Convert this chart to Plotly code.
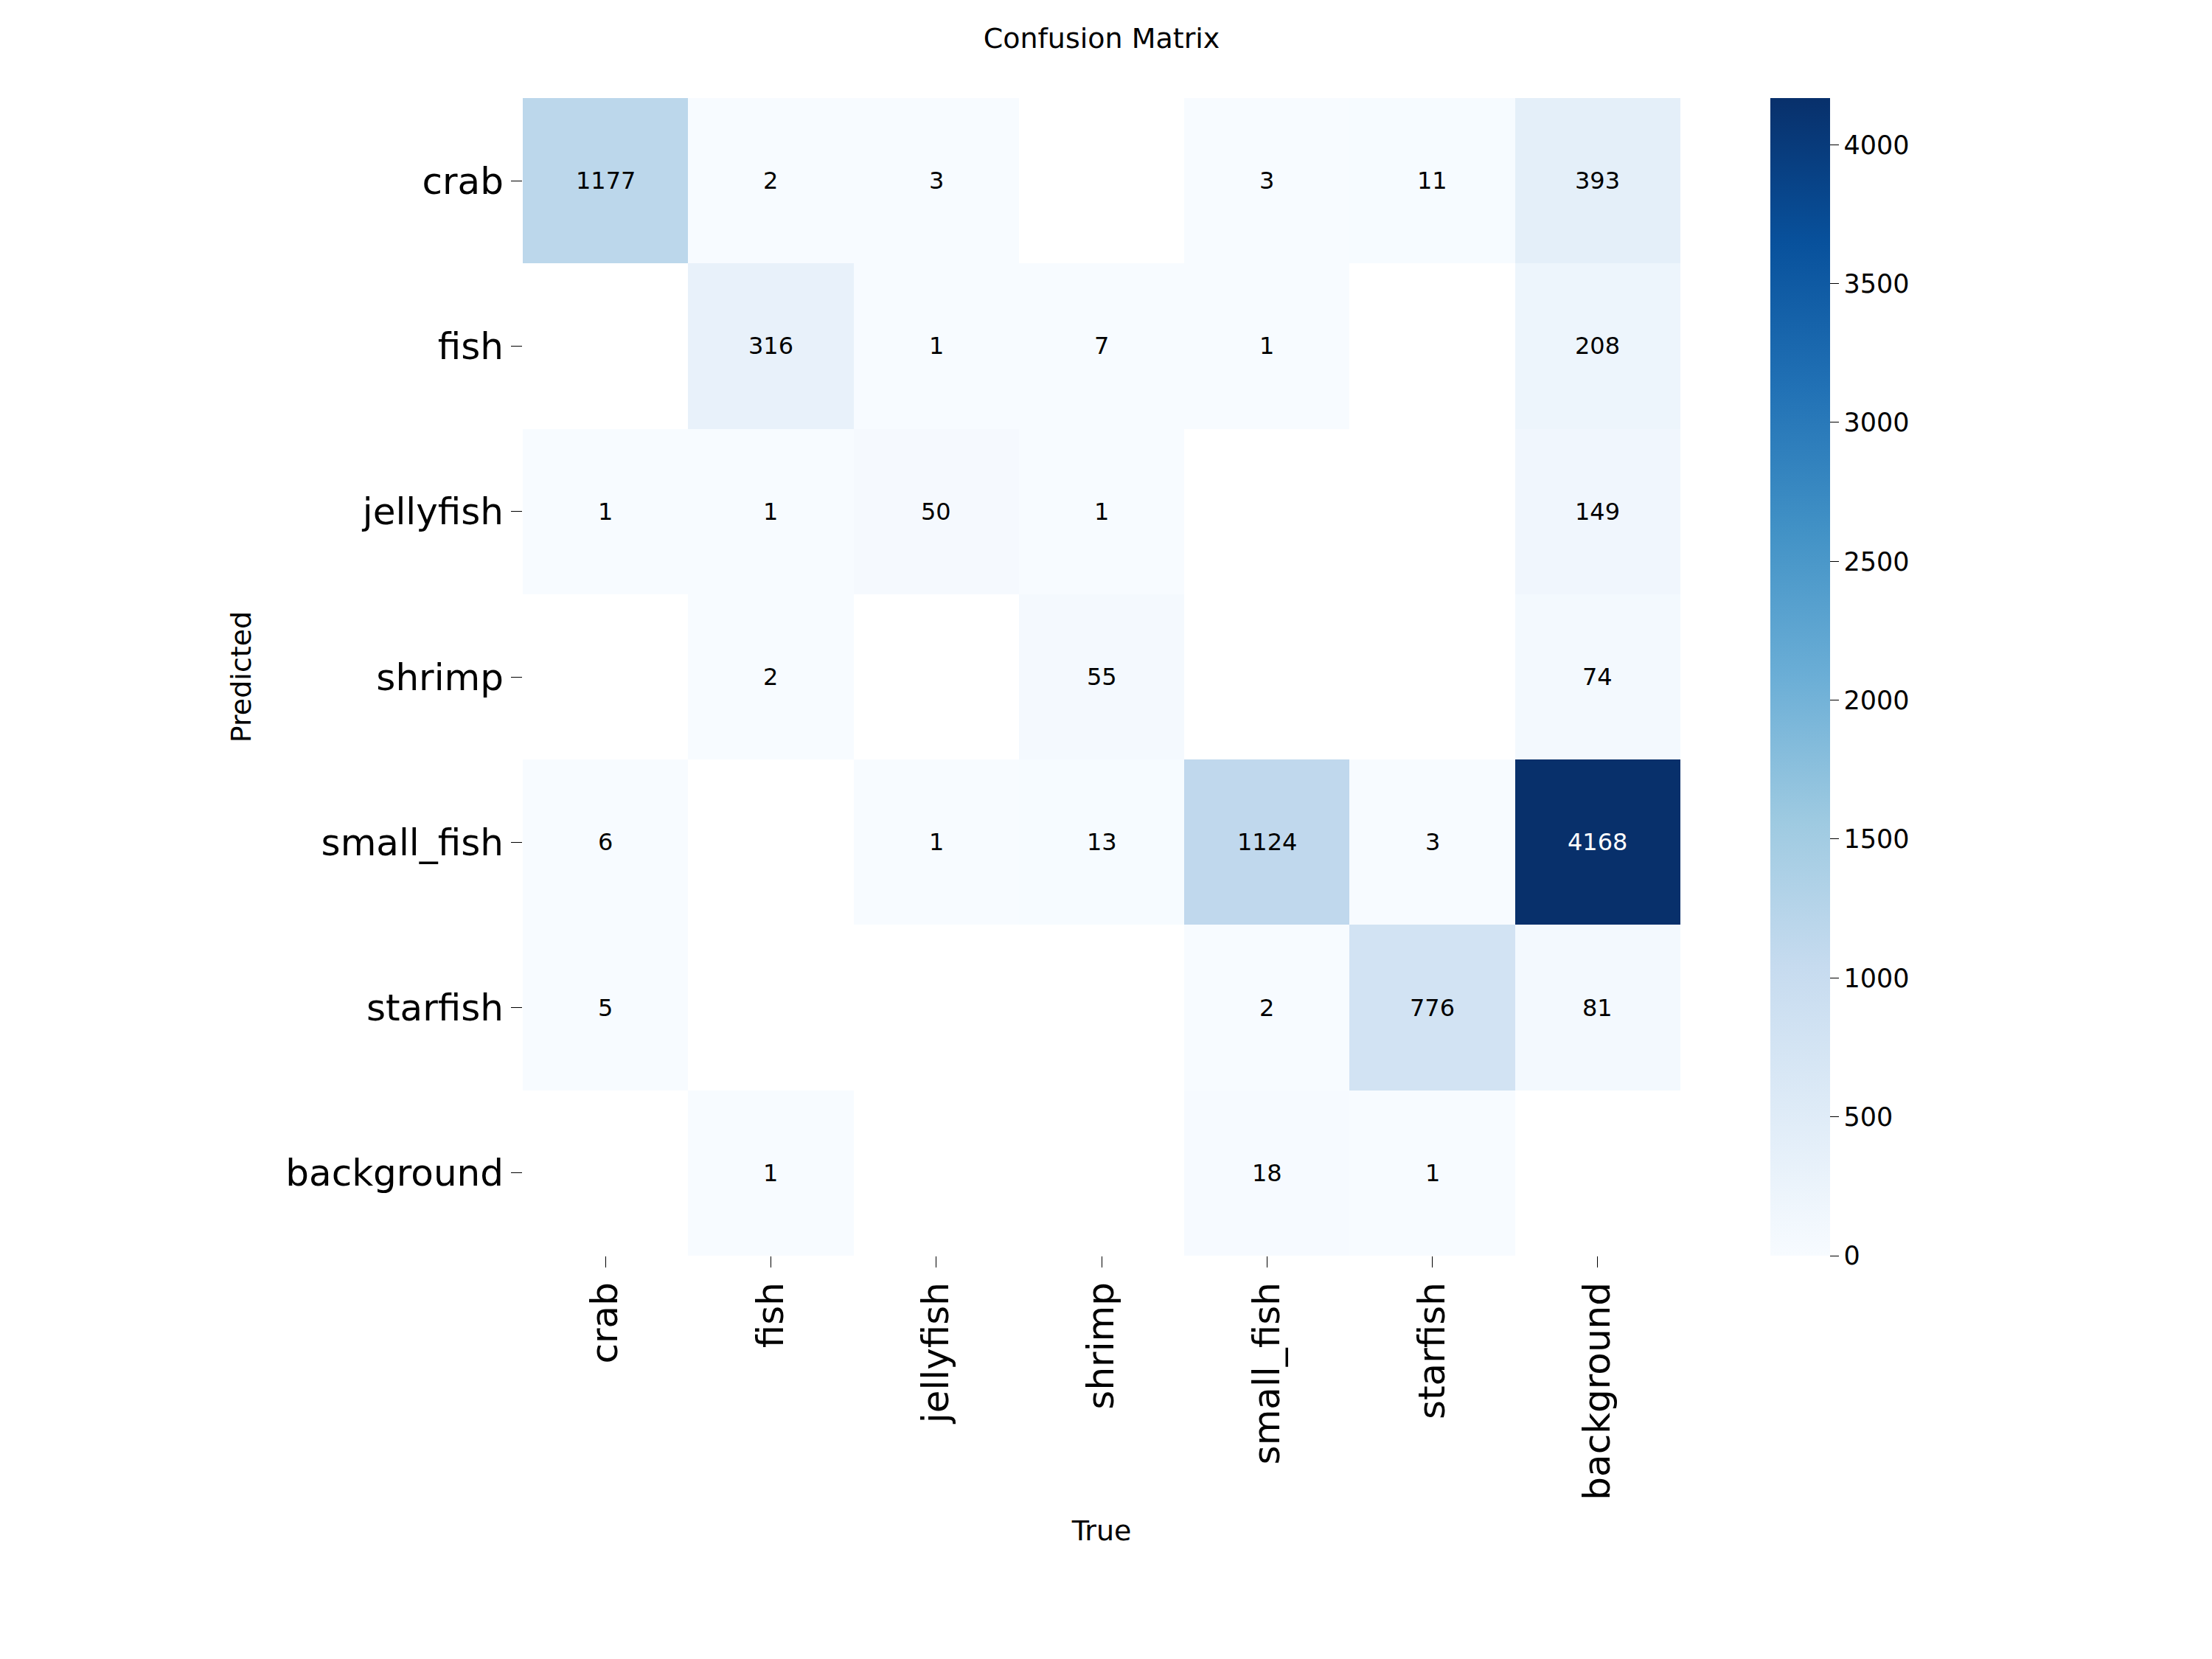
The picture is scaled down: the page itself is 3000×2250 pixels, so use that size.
import plotly.graph_objects as go

labels = ["crab", "fish", "jellyfish", "shrimp", "small_fish", "starfish", "background"]
# rows = Predicted, cols = True ; None = 0 (blank)
matrix = [
    [1177, 2, 3, None, 3, 11, 393],
    [None, 316, 1, 7, 1, None, 208],
    [1, 1, 50, 1, None, None, 149],
    [None, 2, None, 55, None, None, 74],
    [6, None, 1, 13, 1124, 3, 4168],
    [5, None, None, None, 2, 776, 81],
    [None, 1, None, None, 18, 1, None],
]
zmax = 4168

fig = go.Figure(go.Heatmap(
    z=matrix, x=labels, y=labels, colorscale="Blues", zmin=0, zmax=zmax,
    xgap=0, ygap=0, hoverongaps=False,
    colorbar=dict(x=1.078, xanchor="left", xpad=0, ypad=0, y=0.5, yanchor="middle", len=1,
                  lenmode="fraction", thickness=81, outlinewidth=0,
                  tickvals=list(range(0, 4001, 500)),
                  ticks="outside", ticklen=12, tickcolor="black",
                  tickfont=dict(size=35, family="DejaVu Sans")),
))
anns = []
for i, row in enumerate(matrix):
    for j, v in enumerate(row):
        if v is None:
            continue
        anns.append(dict(x=labels[j], y=labels[i], text=str(v), showarrow=False,
                         font=dict(size=32, family="DejaVu Sans",
                                   color="white" if v > zmax * 0.6 else "black")))
fig.update_layout(
    width=3000, height=2250, paper_bgcolor="white", plot_bgcolor="white",
    margin=dict(l=701, r=729, t=125, b=555),
    annotations=anns,
    title=dict(text="Confusion Matrix", xref="paper", x=0.5, xanchor="center", y=0.9805,
               yanchor="middle", font=dict(size=38, family="DejaVu Sans", color="black")),
    font=dict(family="DejaVu Sans", color="black"),
)
fig.update_xaxes(title=dict(text="True", font=dict(size=38), standoff=28), tickangle=-90,
                 tickfont=dict(size=50), ticks="outside", ticklen=15, tickcolor="black",
                 showgrid=False, zeroline=False)
fig.update_yaxes(title=dict(text="Predicted", font=dict(size=38), standoff=34), autorange="reversed",
                 tickfont=dict(size=50), ticks="outside", ticklen=15, tickcolor="black",
                 showgrid=False, zeroline=False)
fig.write_html("out.html")
